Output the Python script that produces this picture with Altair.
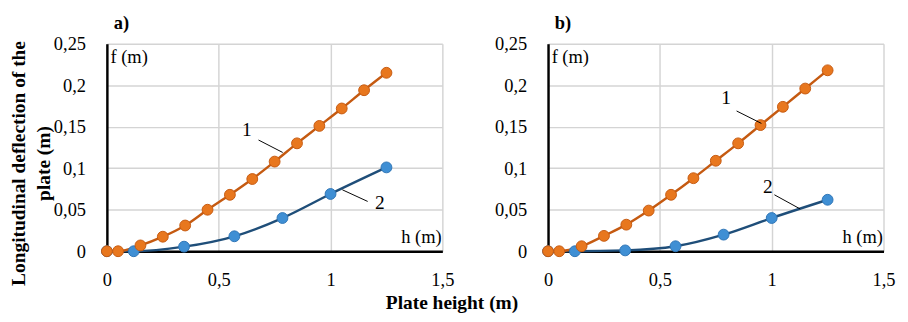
import altair as alt
import pandas as pd

# ---- data ----
h1 = [0, 0.05, 0.15, 0.25, 0.35, 0.45, 0.55, 0.65, 0.75, 0.85, 0.95, 1.05, 1.15, 1.25]
a_f1 = [0, 0, 0.007, 0.0175, 0.031, 0.050, 0.068, 0.087, 0.108, 0.130, 0.151, 0.172, 0.194, 0.215]
b_f1 = [0, 0, 0.006, 0.0185, 0.032, 0.049, 0.068, 0.088, 0.109, 0.130, 0.152, 0.174, 0.196, 0.218]

h2 = [0, 0.12, 0.345, 0.57, 0.785, 1.0, 1.25]
a_f2 = [0, 0, 0.0055, 0.018, 0.040, 0.069, 0.101]
b_f2 = [0, 0, 0.001, 0.006, 0.020, 0.040, 0.062]

x_ticks = [0, 0.5, 1, 1.5]
y_ticks = [0, 0.05, 0.1, 0.15, 0.2, 0.25]

# curve labels "1", "2" and their leader lines (data coordinates)
a_lab_text = ["1", "2"]
a_lab_x = [0.626, 1.22]
a_lab_y = [0.146, 0.058]
a_lead_x = [0.678, 1.166]
a_lead_y = [0.134, 0.060]
a_lead_x2 = [0.786, 1.053]
a_lead_y2 = [0.119, 0.074]

b_lab_text = ["1", "2"]
b_lab_x = [0.796, 0.983]
b_lab_y = [0.184, 0.077]
b_lead_x = [0.843, 1.012]
b_lead_y = [0.169, 0.068]
b_lead_x2 = [0.954, 1.127]
b_lead_y2 = [0.154, 0.051]

panel_titles = ["a)", "b)"]
y_title = ["Longitudinal  deflection of the", "plate (m)"]
x_title = "Plate height (m)"

FONT = "Liberation Serif"
ORANGE_LINE = "#C55A11"
ORANGE_FILL = "#E8771E"
BLUE_LINE = "#1F4E79"
BLUE_FILL = "#3F8FD4"
BLUE_EDGE = "#2E75B6"

comma = "replace(toString(datum.value), '.', ',')"


def panel(f1, f2, lab_text, lab_x, lab_y, lx, ly, lx2, ly2, title, show_title):
    d1 = pd.DataFrame({"h": h1, "f": f1})
    d2 = pd.DataFrame({"h": h2, "f": f2})
    labs = pd.DataFrame({"x": lab_x, "y": lab_y, "t": lab_text})
    leads = pd.DataFrame({"x": lx, "y": ly, "x2": lx2, "y2": ly2})
    u_f = pd.DataFrame({"x": [0.016], "y": [0.234], "t": ["f (m)"]})
    u_h = pd.DataFrame({"x": [1.497], "y": [0.0175], "t": ["h (m)"]})

    xs = alt.Scale(domain=[0, 1.5], nice=False, zero=False)
    ys = alt.Scale(domain=[0, 0.25], nice=False)
    xax = alt.Axis(values=x_ticks, labelExpr=comma, title=None, grid=True,
                   labelPadding=20, labelFlush=False)
    if show_title:
        yax = alt.Axis(values=y_ticks, labelExpr=comma, grid=True, labelPadding=22,
                       title=y_title, titleX=-81, titleY=123)
    else:
        yax = alt.Axis(values=y_ticks, labelExpr=comma, grid=True, labelPadding=22,
                       title=None)

    base_x = alt.X("h:Q", scale=xs, axis=xax)
    base_y = alt.Y("f:Q", scale=ys, axis=yax)

    line2 = alt.Chart(d2).mark_line(interpolate="monotone", color=BLUE_LINE, strokeWidth=2.5).encode(
        x=base_x, y=base_y)
    pts2 = alt.Chart(d2).mark_point(filled=True, size=125, fill=BLUE_FILL, stroke=BLUE_EDGE,
                                    strokeWidth=1, opacity=1).encode(x="h:Q", y="f:Q")
    line1 = alt.Chart(d1).mark_line(interpolate="monotone", color=ORANGE_LINE, strokeWidth=2.5).encode(
        x="h:Q", y="f:Q")
    pts1 = alt.Chart(d1).mark_point(filled=True, size=125, fill=ORANGE_FILL, stroke=ORANGE_LINE,
                                    strokeWidth=1, opacity=1).encode(x="h:Q", y="f:Q")
    rules = alt.Chart(leads).mark_rule(color="black", strokeWidth=1).encode(
        x="x:Q", y="y:Q", x2="x2:Q", y2="y2:Q")
    texts = alt.Chart(labs).mark_text(font=FONT, fontSize=20, color="black").encode(
        x="x:Q", y="y:Q", text="t:N")
    u1 = alt.Chart(u_f).mark_text(font=FONT, fontSize=19, color="black", align="left").encode(
        x="x:Q", y="y:Q", text="t:N")
    u2 = alt.Chart(u_h).mark_text(font=FONT, fontSize=19, color="black", align="right").encode(
        x="x:Q", y="y:Q", text="t:N")

    return alt.layer(line2, line1, pts2, pts1, rules, texts, u1, u2).properties(
        width=346, height=214,
        title=alt.TitleParams(title, anchor="start", frame="group", dx=7, offset=2,
                              font=FONT, fontSize=19, fontWeight="bold", color="black"),
    )


pa = panel(a_f1, a_f2, a_lab_text, a_lab_x, a_lab_y, a_lead_x, a_lead_y, a_lead_x2, a_lead_y2,
           panel_titles[0], True)
pb = panel(b_f1, b_f2, b_lab_text, b_lab_x, b_lab_y, b_lead_x, b_lead_y, b_lead_x2, b_lead_y2,
           panel_titles[1], False)

chart = alt.hconcat(pa, pb, spacing=41).properties(
    title=alt.TitleParams(x_title, orient="bottom", anchor="middle", offset=5,
                          font=FONT, fontSize=20, fontWeight="bold", color="black"),
    padding={"left": 0, "top": 2, "right": 5, "bottom": 0},
).configure_view(stroke=None).configure_axis(
    labelFont=FONT, labelFontSize=19, labelColor="black",
    titleFont=FONT, titleFontSize=20, titleFontWeight="bold", titleColor="black",
    titleLineHeight=26,
    gridColor="#d4d4d4", gridWidth=1.5,
    domainColor="black", domainWidth=2.5,
    ticks=False, tickSize=0,
)

chart.save("out.html", embed_options={"renderer": "svg", "actions": False})
